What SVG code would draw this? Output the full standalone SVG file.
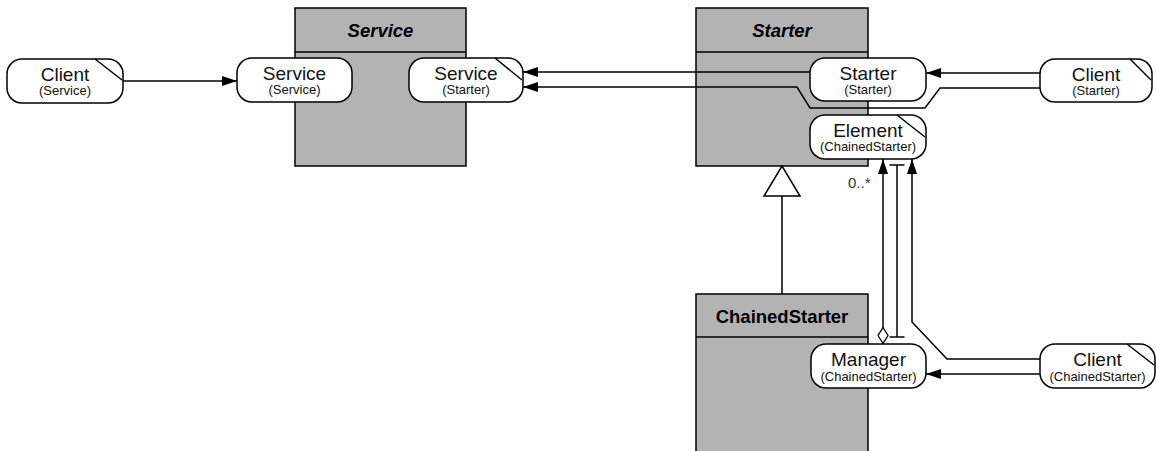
<svg xmlns="http://www.w3.org/2000/svg" width="1156" height="451" viewBox="0 0 1156 451">
<style>
.cls{fill:#b3b3b3;stroke:#000;stroke-width:1.5}
.port{fill:#fff;stroke:#000;stroke-width:1.5}
.note{fill:none;stroke:#000;stroke-width:1.5}
.title{font-family:"Liberation Sans",Arial,sans-serif;font-size:18.5px;font-weight:bold;text-anchor:middle}
.main{font-family:"Liberation Sans",Arial,sans-serif;font-size:19px;text-anchor:middle;fill:#111}
.sub{font-family:"Liberation Sans",Arial,sans-serif;font-size:13px;text-anchor:middle;fill:#111}
.lbl{font-family:"Liberation Sans",Arial,sans-serif;font-size:15px;fill:#333}
.conn{fill:none;stroke:#000;stroke-width:1.5}
</style>
<defs>
<marker id="arr" markerUnits="userSpaceOnUse" markerWidth="16" markerHeight="10" refX="15" refY="5" orient="auto">
<path d="M0,0 L15,5 L0,10 Z" fill="#000"/>
</marker>
<marker id="dia" markerUnits="userSpaceOnUse" markerWidth="18" markerHeight="12" refX="0" refY="6" orient="auto">
<path d="M0.5,6 L8.5,1 L16.5,6 L8.5,11 Z" fill="#fff" stroke="#000" stroke-width="1.3"/>
</marker>
<marker id="tbar" markerUnits="userSpaceOnUse" markerWidth="4" markerHeight="16" refX="1" refY="8" orient="auto">
<path d="M1,0.5 V15.5" stroke="#000" stroke-width="1.5"/>
</marker>
</defs>

<g id="class-service">
<rect class="cls" x="295" y="8" width="171" height="158"/>
<line class="conn" x1="295" y1="52" x2="466" y2="52"/>
<text class="title" x="380.5" y="37" font-style="italic">Service</text>
</g>
<g id="class-starter">
<rect class="cls" x="696" y="8" width="172" height="158"/>
<line class="conn" x1="696" y1="52" x2="868" y2="52"/>
<text class="title" x="782" y="37" font-style="italic">Starter</text>
</g>
<g id="class-chainedstarter">
<rect class="cls" x="696" y="294" width="172" height="170"/>
<line class="conn" x1="696" y1="337" x2="868" y2="337"/>
<text class="title" x="782" y="323">ChainedStarter</text>
</g>

<g id="connectors">
<line class="conn" x1="123" y1="81" x2="237" y2="81" marker-end="url(#arr)"/>
<line class="conn" x1="810" y1="72" x2="523" y2="72" marker-end="url(#arr)"/>
<path class="conn" d="M1040,88 H940 L925,108 H810 L797,87 H523" marker-end="url(#arr)"/>
<line class="conn" x1="1040" y1="73" x2="926" y2="73" marker-end="url(#arr)"/>
<path d="M782,166 L764,196 L800,196 Z" fill="#fff" stroke="#000" stroke-width="1.5"/>
<line class="conn" x1="782" y1="196" x2="782" y2="294"/>
<line class="conn" x1="883" y1="344" x2="883" y2="159" marker-start="url(#dia)" marker-end="url(#arr)"/>
<line class="conn" x1="897" y1="337" x2="897" y2="165" marker-start="url(#tbar)" marker-end="url(#tbar)"/>
<path class="conn" d="M1040,359 H947 L912,322 V159" marker-end="url(#arr)"/>
<line class="conn" x1="1040" y1="374" x2="926" y2="374" marker-end="url(#arr)"/>
<text class="lbl" x="848" y="188">0..*</text>
</g>

<g id="client-service">
<rect class="port" x="7" y="59" width="116" height="44" rx="15"/>
<line class="note" x1="95" y1="59" x2="122" y2="80"/>
<text class="main" x="65" y="81">Client</text>
<text class="sub" x="65" y="95">(Service)</text>
</g>
<g id="service-service">
<rect class="port" x="237" y="58" width="115" height="44" rx="15"/>
<text class="main" x="294.5" y="80">Service</text>
<text class="sub" x="294.5" y="94">(Service)</text>
</g>
<g id="service-starter">
<rect class="port" x="409" y="58" width="114" height="44" rx="15"/>
<line class="note" x1="495" y1="58" x2="522" y2="80"/>
<text class="main" x="466" y="80">Service</text>
<text class="sub" x="466" y="94">(Starter)</text>
</g>
<g id="starter-starter">
<rect class="port" x="810" y="58" width="116" height="43" rx="15"/>
<text class="main" x="868" y="80">Starter</text>
<text class="sub" x="868" y="94">(Starter)</text>
</g>
<g id="element-chainedstarter">
<rect class="port" x="810" y="115" width="116" height="44" rx="15"/>
<line class="note" x1="897" y1="115" x2="925" y2="137"/>
<text class="main" x="868" y="137">Element</text>
<text class="sub" x="868" y="151">(ChainedStarter)</text>
</g>
<g id="client-starter">
<rect class="port" x="1040" y="59" width="112" height="43" rx="15"/>
<line class="note" x1="1130" y1="59" x2="1151" y2="80"/>
<text class="main" x="1096" y="81">Client</text>
<text class="sub" x="1096" y="95">(Starter)</text>
</g>
<g id="manager-chainedstarter">
<rect class="port" x="811" y="344" width="115" height="44" rx="15"/>
<text class="main" x="868.5" y="366">Manager</text>
<text class="sub" x="868.5" y="381">(ChainedStarter)</text>
</g>
<g id="client-chainedstarter">
<rect class="port" x="1040" y="344" width="115" height="44" rx="15"/>
<line class="note" x1="1127" y1="344" x2="1154" y2="365"/>
<text class="main" x="1097.5" y="366">Client</text>
<text class="sub" x="1097.5" y="381">(ChainedStarter)</text>
</g>
</svg>
